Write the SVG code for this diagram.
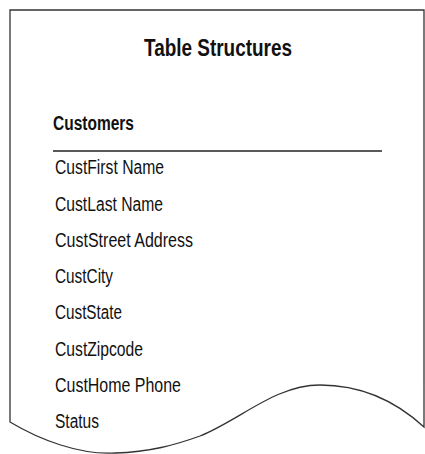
<svg xmlns="http://www.w3.org/2000/svg" width="425" height="454" viewBox="0 0 425 454">
  <style>
    .frame { fill: #ffffff; stroke: #333333; stroke-width: 1.3; }
    .title { font-family: "Liberation Sans", Arial, sans-serif; font-weight: bold; font-size: 24px; fill: #111111; }
    .head { font-family: "Liberation Sans", Arial, sans-serif; font-weight: bold; font-size: 19.5px; fill: #111111; }
    .item { font-family: "Liberation Sans", Arial, sans-serif; font-size: 20px; fill: #111111; }
    .rule { stroke: #222222; stroke-width: 1.6; }
  </style>
  <rect width="425" height="454" fill="#ffffff"/>
  <g id="document">
    <path class="frame" d="M10,422 V10 H424 V427 C400,405 365,385 320,385 C275,385 240,420 200,436 C175,445 150,452 115,453 C80,455 40,440 10,422 Z"/>
  </g>
  <g id="title">
    <text class="title" x="144" y="56" textLength="148" lengthAdjust="spacingAndGlyphs">Table Structures</text>
  </g>
  <g id="customers">
    <text class="head" x="53" y="130" textLength="81" lengthAdjust="spacingAndGlyphs">Customers</text>
    <line class="rule" x1="53" y1="151" x2="382" y2="151"/>
    <text class="item" x="55" y="174" textLength="109" lengthAdjust="spacingAndGlyphs">CustFirst Name</text>
    <text class="item" x="55" y="210.5" textLength="108" lengthAdjust="spacingAndGlyphs">CustLast Name</text>
    <text class="item" x="55" y="247" textLength="138" lengthAdjust="spacingAndGlyphs">CustStreet Address</text>
    <text class="item" x="55" y="283" textLength="58" lengthAdjust="spacingAndGlyphs">CustCity</text>
    <text class="item" x="55" y="319" textLength="67" lengthAdjust="spacingAndGlyphs">CustState</text>
    <text class="item" x="55" y="355.5" textLength="88" lengthAdjust="spacingAndGlyphs">CustZipcode</text>
    <text class="item" x="55" y="392" textLength="126" lengthAdjust="spacingAndGlyphs">CustHome Phone</text>
    <text class="item" x="55" y="428" textLength="44" lengthAdjust="spacingAndGlyphs">Status</text>
  </g>
</svg>
